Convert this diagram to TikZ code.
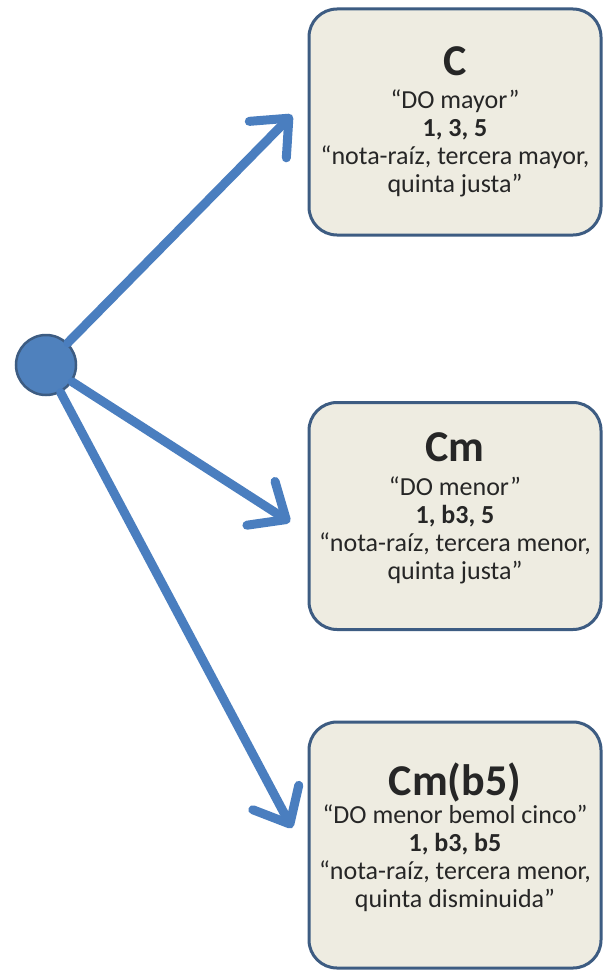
\documentclass[tikz,border=0pt]{standalone}
\usepackage{fontspec}
\setmainfont{Carlito}
\usetikzlibrary{arrows.meta}
\definecolor{arrowblue}{HTML}{4A7EBF}
\definecolor{boxborder}{HTML}{3D5C82}
\definecolor{boxfill}{HTML}{EEECE1}
\definecolor{circfill}{HTML}{4F81BD}
\newcommand{\chordname}[2]{{\fontsize{44}{44}\selectfont\bfseries #1}\\[#2]}
\begin{document}
\begin{tikzpicture}[x=1pt,y=-1pt,
  chordbox/.style={draw=boxborder, line width=3pt, fill=boxfill, rounded corners=28pt,
    minimum width=292pt, inner sep=0pt, align=center, text=black!85,
    font=\fontsize{26}{28}\selectfont},
  link/.style={draw=arrowblue, line width=9pt, line cap=round,
    -{Straight Barb[length=30pt,width=52pt,round]}},
  rootdot/.style={circle, fill=circfill, draw=boxborder, line width=2.5pt, minimum size=60pt, inner sep=0pt}]
\useasboundingbox (0,0) rectangle (604,974);
\fill[white] (0,0) rectangle (604,974);

\node[chordbox, minimum height=226pt] (b1) at (455,122)
  {\chordname{C}{5pt}
   “DO mayor”\\ \textbf{1, 3, 5}\\ “nota-raíz, tercera mayor,\\ quinta justa”};
\node[chordbox, minimum height=227pt] (b2) at (455,516)
  {\chordname{Cm}{6pt}
   “DO menor”\\ \textbf{1, b3, 5}\\ “nota-raíz, tercera menor,\\ quinta justa”\\[-8pt]};
\node[chordbox, minimum height=246pt] (b3) at (455,845)
  {\chordname{Cm(b5)}{0pt}
   “DO menor bemol cinco”\\ \textbf{1, b3, b5}\\ “nota-raíz, tercera menor,\\ quinta disminuida”\\[-8pt]};

\node[rootdot] (root) at (46,365) {};
\coordinate (t1) at (292,115);
\coordinate (t2) at (290,522);
\coordinate (t3) at (292,828);
\draw[link] (root) -- (t1);
\draw[link] (root) -- (t2);
\draw[link] (root) -- (t3);
\end{tikzpicture}
\end{document}
